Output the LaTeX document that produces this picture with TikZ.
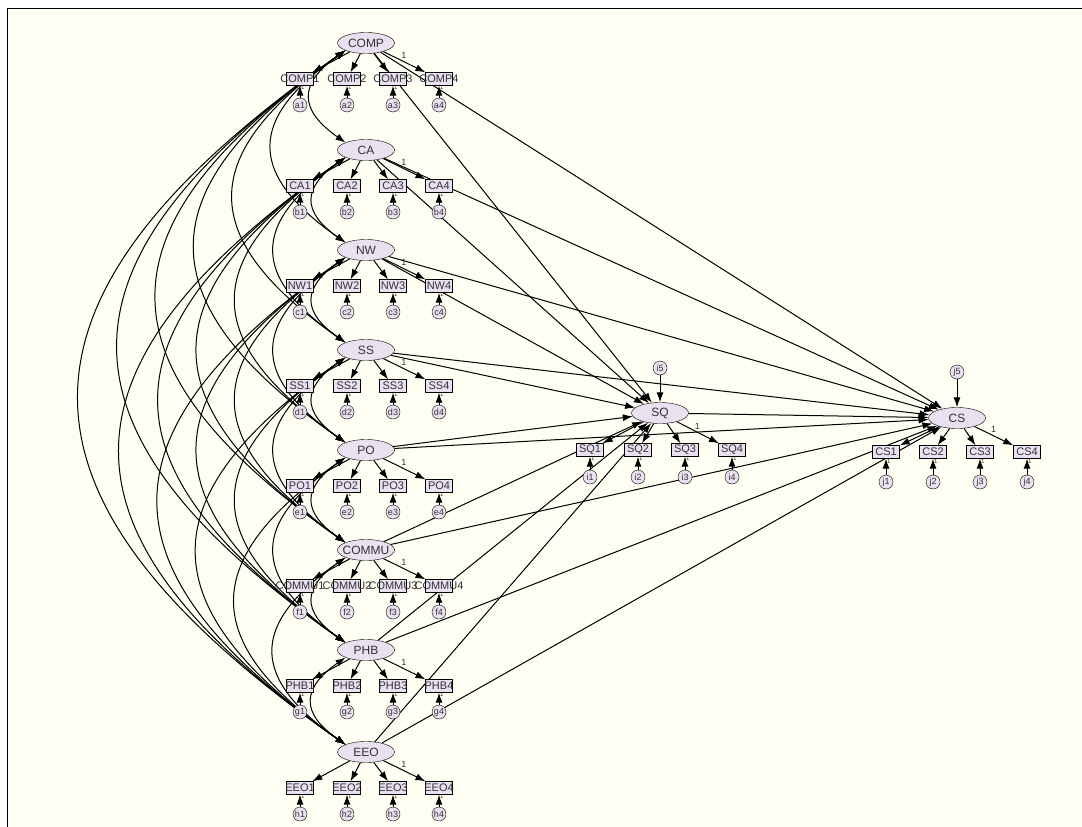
\documentclass[tikz,border=0pt]{standalone}
\usepackage{fontspec}
\setmainfont{Liberation Sans}
\usetikzlibrary{arrows.meta,shapes.geometric}
\definecolor{paper}{HTML}{FEFEF2}
\definecolor{lav}{HTML}{E9E1F0}
\definecolor{ink}{HTML}{333333}
\pgfdeclarelayer{bg}
\pgfdeclarelayer{wires}
\pgfsetlayers{bg,wires,main}

\begin{document}
\begin{tikzpicture}[x=1pt,y=1pt,
  latent/.style={draw,ellipse,fill=lav,minimum width=57pt,minimum height=21pt,inner sep=0pt,text=ink,font=\fontsize{12}{12}\selectfont},
  obs/.style={draw,rectangle,fill=lav,minimum width=27pt,minimum height=13pt,inner sep=0pt,text=ink,font=\fontsize{11}{11}\selectfont},
  err/.style={draw,circle,fill=lav,minimum size=14pt,inner sep=0pt,text=ink,font=\fontsize{9}{9}\selectfont},
  arr/.style={-{Latex[length=10pt,width=7pt]},line width=1pt},
  cov/.style={{Latex[length=10pt,width=7pt]}-{Latex[length=10pt,width=7pt]},line width=1pt},
  one/.style={text=ink,inner sep=1pt,font=\fontsize{9}{9}\selectfont},
  tinyone/.style={text=ink,inner sep=0.5pt,font=\fontsize{6}{6}\selectfont}]
\useasboundingbox (0,0) rectangle (1082,-827);
\begin{pgfonlayer}{bg}
  \fill[white] (0,0) rectangle (1082,-827);
  \fill[paper] (7,-8) rectangle (1082,-827);
  \draw[line width=1pt] (7,-827) -- (7,-8) -- (1082,-8);
\end{pgfonlayer}

\foreach \lat/\yy/\e/\n in {COMP/43/a/1,CA/150/b/2,NW/250/c/3,SS/350/d/4,PO/450/e/5,COMMU/550/f/6,PHB/650/g/7,EEO/752/h/8}{
  \node[latent] (L\n) at (366,-\yy) {\makebox[0pt]{\lat}};
  \foreach \k/\xx in {1/300,2/347,3/393,4/439}{
    \node[obs] (\lat\k) at (\xx,-\yy-36) {\makebox[0pt]{\lat\k}};
    \node[err] (\e\k) at (\xx,-\yy-62) {\e\k};
    \begin{pgfonlayer}{wires}
      \draw[arr] (L\n) -- (\lat\k);
      \draw[arr] (\e\k) -- (\lat\k) node[tinyone,pos=0.85,right] {1};
    \end{pgfonlayer}
  }
  \path (L\n) -- (\lat4) node[one,pos=0.4,above right] {1};
}

\node[latent] (sq) at (660,-413) {SQ};
\node[err] (i5) at (660,-368) {i5};
\foreach \k/\xx in {1/590,2/638,3/685,4/732}{
  \node[obs] (SQ\k) at (\xx,-450) {\makebox[0pt]{SQ\k}};
  \node[err] (i\k) at (\xx,-477) {i\k};
  \begin{pgfonlayer}{wires}
    \draw[arr] (sq) -- (SQ\k);
    \draw[arr] (i\k) -- (SQ\k) node[tinyone,pos=0.85,right] {1};
  \end{pgfonlayer}
}
\path (sq) -- (SQ4) node[one,pos=0.4,above right] {1};

\node[latent] (cs) at (957,-418) {CS};
\node[err] (j5) at (957,-372) {j5};
\foreach \k/\xx in {1/886,2/933,3/980,4/1027}{
  \node[obs] (CS\k) at (\xx,-452) {\makebox[0pt]{CS\k}};
  \node[err] (j\k) at (\xx,-482) {j\k};
  \begin{pgfonlayer}{wires}
    \draw[arr] (cs) -- (CS\k);
    \draw[arr] (j\k) -- (CS\k) node[tinyone,pos=0.85,right] {1};
  \end{pgfonlayer}
}
\path (cs) -- (CS4) node[one,pos=0.4,above right] {1};

\begin{pgfonlayer}{wires}
  \draw[arr] (i5) -- (sq);
  \draw[arr] (j5) -- (cs);
  \draw[arr] (sq) -- (cs);
  \foreach \n in {1,...,8}{
    \draw[arr] (L\n) -- (sq);
    \draw[arr] (L\n) -- (cs);
  }
  \foreach \i in {1,...,7}{
    \pgfmathtruncatemacro\s{\i+1}
    \foreach \j in {\s,...,8}
      \draw[cov] (L\i.200) to[out=215,in=145,looseness=1.6] (L\j.160);
  }
\end{pgfonlayer}
\end{tikzpicture}
\end{document}
